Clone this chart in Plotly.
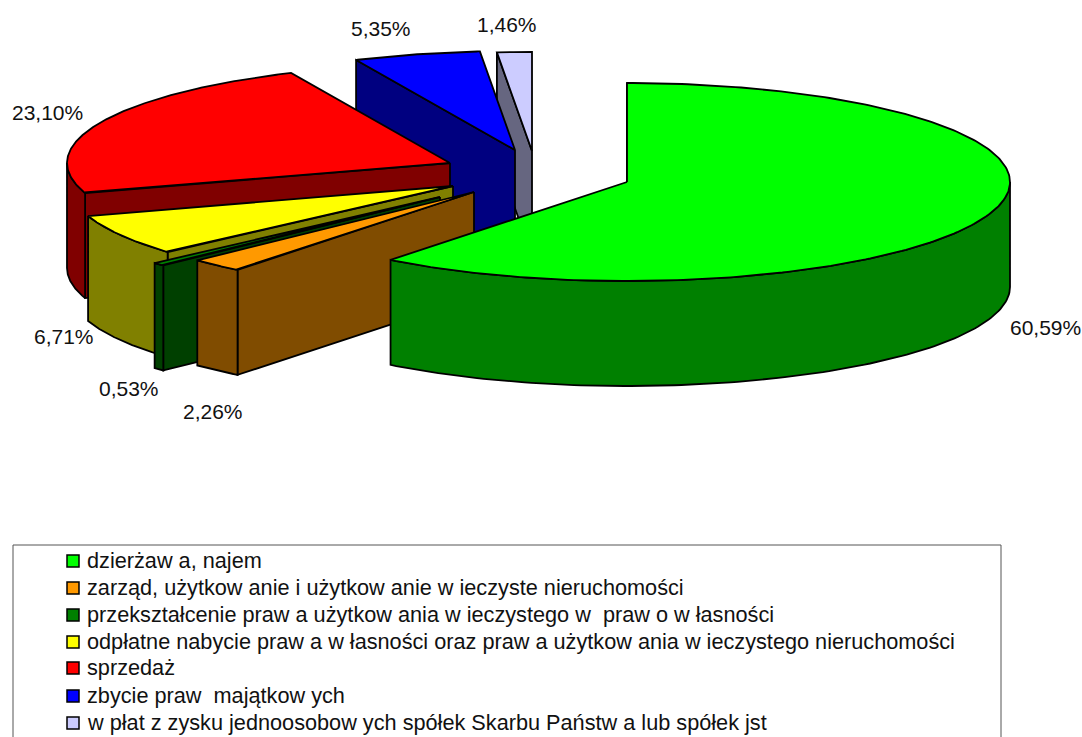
import numpy as np
import plotly.graph_objects as go

# --- data ---
categories = [
    "dzierżaw a, najem",
    "zarząd, użytkow anie i użytkow anie w ieczyste nieruchomości",
    "przekształcenie praw a użytkow ania w ieczystego w  praw o w łasności",
    "odpłatne nabycie praw a w łasności oraz praw a użytkow ania w ieczystego nieruchomości",
    "sprzedaż",
    "zbycie praw  majątkow ych",
    "w płat z zysku jednoosobow ych spółek Skarbu Państw a lub spółek jst",
]
values = [60.59, 2.26, 0.53, 6.71, 23.10, 5.35, 1.46]

# --- styling / layout of the exploded 3-D pie ---
top_colors = ["#00FF00", "#FF9900", "#008000", "#FFFF00", "#FF0000", "#0000FF", "#CCCCFF"]
side_colors = ["#008000", "#804C00", "#004000", "#808000", "#800000", "#000080", "#666680"]
apex_x = [627, 474, 440, 453, 450, 515, 532]
apex_y = [182, 192, 197, 186, 163, 150, 151]
label_x = [1045, 213, 129, 64, 47, 381, 507]
label_y = [327, 411, 388, 336, 112, 28, 24]
legend_y = [561, 588, 615, 642, 668, 696, 723]
RX, RY, DEPTH = 383, 99, 105
draw_order = [6, 5, 4, 3, 2, 1, 0]

fig = go.Figure()


def poly(xs, ys, color):
    fig.add_trace(go.Scatter(
        x=list(xs) + [xs[0]], y=list(ys) + [ys[0]], mode="lines", fill="toself",
        fillcolor=color, line=dict(color="black", width=1.8), hoverinfo="skip", showlegend=False,
    ))


edges = np.concatenate([[0], np.cumsum(values)]) / sum(values) * 360

for i in draw_order:
    a0, a1 = edges[i], edges[i + 1]
    cx, cy = apex_x[i], apex_y[i]
    rim = lambda a: (cx + RX * np.sin(np.radians(a)), cy - RY * np.cos(np.radians(a)))
    # leading radial wall
    x0, y0 = rim(a0)
    poly([cx, x0, x0, cx], [cy, y0, y0 + DEPTH, cy + DEPTH], side_colors[i])
    # outer rim band, front-facing part only
    lo, hi = max(a0, 90), min(a1, 270)
    if lo < hi:
        xa, ya = rim(np.linspace(lo, hi, 120))
        poly(np.r_[xa, xa[::-1]], np.r_[ya, ya[::-1] + DEPTH], side_colors[i])
    # top face
    xa, ya = rim(np.linspace(a0, a1, 240))
    poly(np.r_[cx, xa], np.r_[cy, ya], top_colors[i])

# legend swatches
fig.add_trace(go.Scatter(
    x=[73] * len(categories), y=legend_y, mode="markers",
    marker=dict(symbol="square", size=12, color=top_colors, line=dict(color="black", width=1.5)),
    hoverinfo="skip", showlegend=False,
))

annotations = []
for v, lx, ly in zip(values, label_x, label_y):
    annotations.append(dict(x=lx, y=ly, text=f"{v:.2f}%".replace(".", ","), showarrow=False,
                            xanchor="center", yanchor="middle", font=dict(size=21)))
for name, ly in zip(categories, legend_y):
    annotations.append(dict(x=85, y=ly - 1, text=name.replace("  ", "\u00a0 "), showarrow=False,
                            xanchor="left", yanchor="middle", font=dict(size=21.7)))

fig.update_layout(
    width=1082, height=737, margin=dict(l=0, r=0, t=0, b=0),
    paper_bgcolor="white", plot_bgcolor="white",
    font=dict(family="Liberation Sans, Arial, sans-serif", color="#111111"),
    xaxis=dict(range=[0, 1082], visible=False, fixedrange=True),
    yaxis=dict(range=[737, 0], visible=False, fixedrange=True),
    annotations=annotations,
    shapes=[dict(type="rect", x0=13, x1=1001, y0=545, y1=760,
                 line=dict(color="#555555", width=1), layer="below")],
)

fig.write_html("out.html", config=dict(displayModeBar=False),
               post_script="document.body.style.margin='0';document.body.style.overflow='hidden';")
